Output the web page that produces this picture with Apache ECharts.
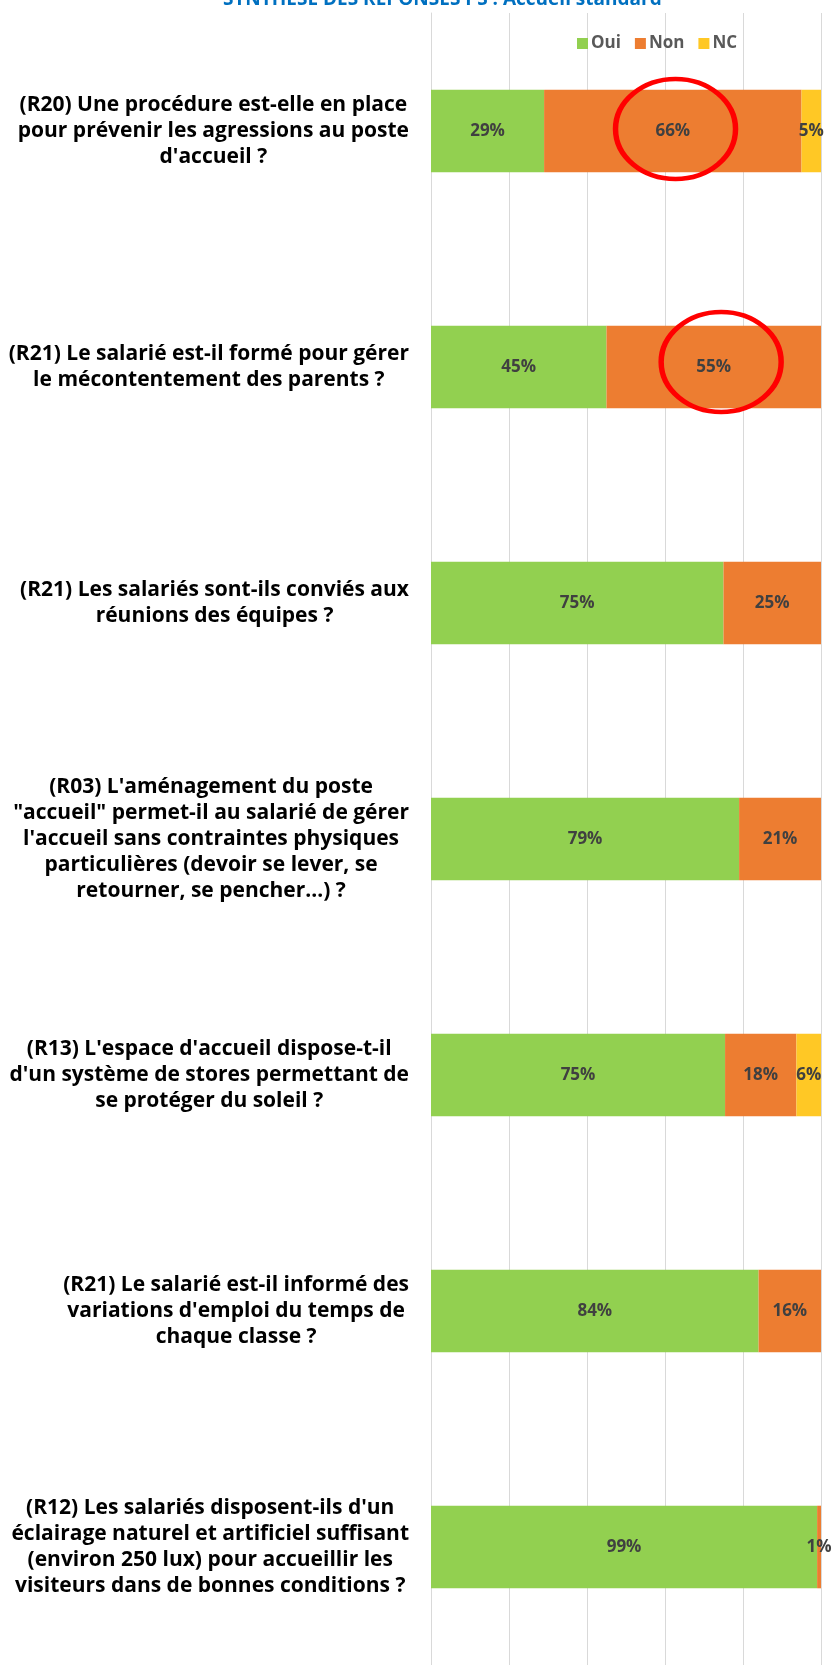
<!DOCTYPE html>
<html>
<head>
<meta charset="utf-8">
<script src="https://cdn.jsdelivr.net/npm/echarts@6/dist/echarts.min.js"></script>
<style>
  html, body { margin: 0; padding: 0; background: #fff; }
  #chart { width: 832px; height: 1665px; }
</style>
</head>
<body>
<div id="chart"></div>
<script>
  /* questions, du haut vers le bas */
  var questions = [
    "(R20) Une procédure est-elle en place\npour prévenir les agressions au poste\nd'accueil ?",
    "(R21) Le salarié est-il formé pour gérer\nle mécontentement des parents ?",
    "(R21) Les salariés sont-ils conviés aux\nréunions des équipes ?",
    "(R03) L'aménagement du poste\n\"accueil\" permet-il au salarié de gérer\nl'accueil sans contraintes physiques\nparticulières (devoir se lever, se\nretourner, se pencher…) ?",
    "(R13) L'espace d'accueil dispose-t-il\nd'un système de stores permettant de\nse protéger du soleil ?",
    "(R21) Le salarié est-il informé des\nvariations d'emploi du temps de\nchaque classe ?",
    "(R12) Les salariés disposent-ils d'un\néclairage naturel et artificiel suffisant\n(environ 250 lux) pour accueillir les\nvisiteurs dans de bonnes conditions ?"
  ]
  var oui = [29, 45, 75, 79, 75.4, 84, 99]
  var non = [66, 55, 25, 21, 18.3, 16, 1]
  var nc = [5, 0, 0, 0, 6.3, 0, 0]
  /* cercles rouges : [question, valeur au centre] */
  var circled = [[0, 62.7], [1, 74.4]]

  var chart = echarts.init(document.getElementById('chart'))

  var pctLabel = {
    show: true,
    position: 'inside',
    color: '#404040',
    fontFamily: 'Open Sans',
    fontWeight: 'bold',
    fontSize: 17,
    formatter: function (p) { return p.value ? Math.round(p.value) + '%' : '' }
  }

  function barSeries (name, color, values) {
    return {
      name: name,
      type: 'bar',
      stack: 'total',
      barWidth: '35%',
      itemStyle: {color: color},
      label: pctLabel,
      data: values
    }
  }

  var nonSeries = barSeries('Non', '#ED7D31', non)
  nonSeries.markPoint = {
    symbol: 'path://M0 50A50 50 0 1 1 100 50A50 50 0 1 1 0 50Z',
    symbolSize: [120, 100],
    symbolKeepAspect: false,
    itemStyle: {color: 'none', borderColor: '#FF0000', borderWidth: 5},
    label: {show: false},
    silent: true,
    data: circled.map(function (c, i) {
      return {coord: [c[1], c[0]], symbolOffset: [0, i === 0 ? -2 : -5]}
    })
  }

  chart.setOption({
    animation: false,
    title: {
      text: 'SYNTHESE DES REPONSES PS : Accueil standard',
      left: 218,
      top: -15,
      textStyle: {color: '#0070C0', fontFamily: 'Open Sans', fontWeight: 'bold', fontSize: 19}
    },
    legend: {
      left: 572,
      top: 30,
      itemWidth: 11,
      itemHeight: 11,
      itemGap: 14,
      icon: 'rect',
      textStyle: {color: '#595959', fontFamily: 'Open Sans', fontWeight: 'bold', fontSize: 17, padding: [0, 0, 0, -2]},
      data: ['Oui', 'Non', 'NC']
    },
    grid: {left: 431, right: 11, top: 13, height: 1658, containLabel: false},
    xAxis: {
      type: 'value',
      min: 0,
      max: 100,
      interval: 20,
      axisLabel: {show: false},
      axisLine: {show: false},
      axisTick: {show: false},
      splitLine: {lineStyle: {color: '#D9D9D9', width: 1}}
    },
    yAxis: {
      type: 'category',
      inverse: true,
      data: questions,
      axisLine: {lineStyle: {color: '#D9D9D9'}},
      axisTick: {inside: true, length: 8, lineStyle: {color: '#D9D9D9'}},
      axisLabel: {
        align: 'right',
        margin: 22,
        formatter: function (v) {
          return v.split('\n').map(function (s) { return '{q|' + s + '}' }).join('\n')
        },
        rich: {
          q: {
            align: 'center',
            color: '#000',
            fontFamily: 'Open Sans',
            fontWeight: 'bold',
            fontSize: 21,
            lineHeight: 26
          }
        }
      }
    },
    series: [
      barSeries('Oui', '#92D050', oui),
      nonSeries,
      barSeries('NC', '#FFC825', nc)
    ]
  })
</script>
</body>
</html>
